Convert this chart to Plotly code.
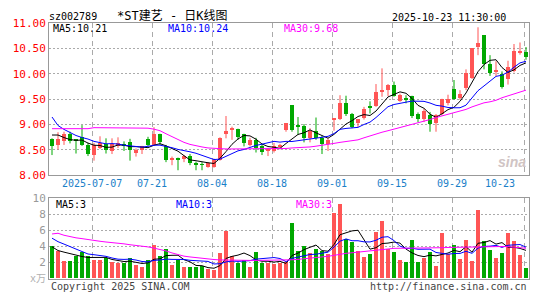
import plotly.graph_objects as go
import pandas as pd

W, H = 545, 300

# ---- trading days (Oct 1-8 holiday removed) ----
dates = [d.strftime('%Y-%m-%d') for d in pd.bdate_range('2025-06-26', '2025-10-23')
         if not ('2025-10-01' <= d.strftime('%Y-%m-%d') <= '2025-10-08')]

tick_dates = ['2025-07-07', '2025-07-21', '2025-08-04', '2025-08-18',
              '2025-09-01', '2025-09-15', '2025-09-29', '2025-10-23']
tick_labels = ['2025-07-07', '07-21', '08-04', '08-18', '09-01', '09-15', '09-29', '10-23']

open_ = [8.72, 8.60, 8.67, 8.81, 8.70, 8.75, 8.60, 8.40, 8.54, 8.62,
         8.48, 8.57, 8.62, 8.65, 8.43, 8.50, 8.72, 8.60, 8.81, 8.57,
         8.31, 8.32, 8.31, 8.38, 8.22, 8.21, 8.16, 8.16, 8.30, 8.81,
         8.90, 8.91, 8.81, 8.60, 8.70, 8.57, 8.47, 8.48, 8.55, 8.89,
         9.38, 8.98, 8.97, 8.74, 8.87, 8.73, 8.62, 9.10, 9.11, 9.42,
         9.20, 9.02, 9.13, 9.34, 9.36, 9.63, 9.67, 9.78, 9.47, 9.51,
         9.57, 9.21, 9.10, 9.19, 9.02, 9.21, 9.42, 9.70, 9.52, 9.71,
         9.92, 10.53, 10.76, 10.20, 10.03, 9.99, 9.90, 10.06, 10.40, 10.42]
high = [8.73, 8.85, 8.86, 8.86, 8.71, 8.99, 8.64, 8.64, 8.77, 8.73,
        8.73, 8.75, 8.67, 8.72, 8.53, 8.58, 8.76, 8.95, 8.82, 8.60,
        8.37, 8.35, 8.40, 8.42, 8.27, 8.26, 8.26, 8.33, 8.75, 9.17,
        8.96, 8.92, 8.82, 8.74, 8.74, 8.62, 8.54, 8.64, 8.62, 9.02,
        9.38, 9.15, 9.01, 8.93, 9.14, 8.78, 8.73, 9.12, 9.58, 9.57,
        9.23, 9.11, 9.35, 9.46, 9.80, 10.11, 9.80, 9.85, 9.61, 9.58,
        9.57, 9.24, 9.31, 9.25, 9.21, 9.51, 9.59, 9.88, 9.68, 10.09,
        10.51, 10.92, 10.76, 10.37, 10.25, 10.05, 10.26, 10.59, 10.62, 10.53]
low = [8.40, 8.51, 8.60, 8.63, 8.43, 8.58, 8.38, 8.29, 8.52, 8.43,
       8.42, 8.54, 8.48, 8.29, 8.37, 8.42, 8.57, 8.58, 8.60, 8.26,
       8.20, 8.10, 8.26, 8.20, 8.10, 8.10, 8.15, 8.15, 8.29, 8.73,
       8.70, 8.70, 8.57, 8.57, 8.45, 8.40, 8.38, 8.45, 8.51, 8.86,
       8.86, 8.80, 8.65, 8.65, 8.70, 8.42, 8.48, 8.88, 9.09, 9.17,
       8.93, 8.95, 9.10, 9.22, 9.35, 9.55, 9.56, 9.55, 9.45, 9.42,
       9.13, 9.05, 9.05, 8.86, 8.86, 9.18, 9.38, 9.49, 9.49, 9.68,
       9.90, 10.37, 10.09, 9.96, 9.96, 9.71, 9.79, 10.03, 10.38, 10.28]
close = [8.57, 8.72, 8.81, 8.67, 8.68, 8.60, 8.42, 8.60, 8.64, 8.50,
         8.62, 8.64, 8.57, 8.50, 8.50, 8.57, 8.59, 8.81, 8.65, 8.29,
         8.33, 8.30, 8.37, 8.23, 8.21, 8.20, 8.23, 8.30, 8.74, 8.87,
         8.92, 8.76, 8.64, 8.70, 8.54, 8.45, 8.51, 8.57, 8.59, 9.02,
         8.89, 8.96, 8.74, 8.87, 8.73, 8.62, 8.70, 9.12, 9.42, 9.20,
         8.95, 9.11, 9.31, 9.33, 9.64, 9.67, 9.78, 9.56, 9.58, 9.50,
         9.16, 9.10, 9.27, 9.00, 9.19, 9.51, 9.51, 9.50, 9.59, 10.01,
         10.51, 10.61, 10.20, 10.01, 10.07, 9.74, 10.13, 10.45, 10.45, 10.32]
# closes of the 9 sessions before the window (for MA5 / MA10)
prior_close = [10.40, 9.58, 9.27, 9.28, 9.00, 8.72, 9.06, 8.87, 8.755]
ma30_price = [8.92, 8.92, 8.92, 8.92, 8.92, 8.92, 8.92, 8.94, 8.94, 8.94,
              8.94, 8.94, 8.94, 8.94, 8.94, 8.94, 8.93, 8.91, 8.88, 8.82,
              8.76, 8.70, 8.65, 8.61, 8.58, 8.56, 8.54, 8.53, 8.52, 8.52,
              8.52, 8.52, 8.52, 8.52, 8.52, 8.52, 8.52, 8.52, 8.52, 8.53,
              8.54, 8.545, 8.55, 8.56, 8.575, 8.59, 8.61, 8.63, 8.65, 8.665,
              8.68, 8.70, 8.74, 8.78, 8.81, 8.85, 8.88, 8.91, 8.95, 8.98,
              9.00, 9.03, 9.06, 9.10, 9.14, 9.17, 9.20, 9.23, 9.26, 9.30,
              9.35, 9.39, 9.43, 9.45, 9.48, 9.53, 9.57, 9.61, 9.65, 9.68]

volume = [4.05, 3.37, 2.18, 2.18, 2.78, 3.25, 2.78, 2.30, 2.30, 2.58,
          1.98, 1.90, 1.90, 2.50, 1.67, 1.47, 2.26, 4.17, 2.78, 3.65,
          1.67, 2.30, 1.39, 1.47, 1.39, 1.51, 1.11, 1.00, 3.10, 5.87,
          2.78, 1.90, 2.30, 1.47, 3.25, 1.90, 1.90, 1.79, 1.90, 2.00,
          6.83, 3.37, 3.97, 3.10, 3.65, 3.37, 2.98, 8.13, 9.20, 4.84,
          4.56, 3.37, 2.60, 2.98, 5.75, 7.14, 3.65, 3.25, 2.30, 2.06,
          4.76, 2.06, 2.50, 3.25, 1.59, 5.63, 2.98, 4.17, 2.38, 4.76,
          2.18, 8.53, 4.64, 3.57, 2.58, 3.10, 5.63, 4.64, 2.86, 1.35]
prior_volume = [7.77, 5.18, 5.18, 6.28, 6.14, 5.72, 3.18, 3.18, 3.72]
ma30_volume = [5.56, 5.65, 5.40, 5.20, 5.08, 4.98, 4.85, 4.75, 4.65, 4.56,
               4.50, 4.40, 4.33, 4.22, 4.15, 4.05, 3.95, 3.80, 3.65, 3.45,
               3.20, 3.00, 2.80, 2.70, 2.60, 2.50, 2.42, 2.38, 2.33, 2.30,
               2.27, 2.27, 2.27, 2.27, 2.27, 2.27, 2.27, 2.27, 2.27, 2.30,
               2.35, 2.40, 2.47, 2.53, 2.58, 2.68, 2.78, 2.90, 3.05, 3.15,
               3.22, 3.30, 3.37, 3.45, 3.55, 3.65, 3.72, 3.77, 3.78, 3.78,
               3.78, 3.78, 3.78, 3.80, 3.82, 3.85, 3.88, 3.90, 3.90, 3.90,
               3.90, 3.95, 4.00, 4.05, 4.05, 4.00, 3.98, 3.95, 3.85, 3.78]

RED = '#ff5555'
GREEN = '#00a800'
MONO = 'DejaVu Sans Mono, Liberation Mono, monospace'
CJK = 'DejaVu Sans Mono, Noto Sans CJK SC, monospace'


def moving_avg(series, prior, n):
    full = list(prior) + list(series)
    k = len(prior)
    return [sum(full[k + i - n + 1:k + i + 1]) / n for i in range(len(series))]


n = len(dates)
idx = list(range(n))
up = [c >= o for o, c in zip(open_, close)]
colors = [RED if u else GREEN for u in up]

ma5 = moving_avg(close, prior_close, 5)
ma10 = moving_avg(close, prior_close, 10)
vma5 = moving_avg(volume, prior_volume, 5)
vma10 = moving_avg(volume, prior_volume, 10)

fig = go.Figure()

# wicks
for want, col in ((True, RED), (False, GREEN)):
    wx, wy = [], []
    for i in idx:
        if up[i] == want:
            wx += [i, i, None]
            wy += [low[i], high[i], None]
    fig.add_trace(go.Scatter(x=wx, y=wy, mode='lines', line=dict(color=col, width=1),
                             hoverinfo='skip', showlegend=False, xaxis='x', yaxis='y'))

# bodies
base = [min(o, c) for o, c in zip(open_, close)]
hgt = [max(abs(c - o), 0.014) for o, c in zip(open_, close)]
fig.add_trace(go.Bar(x=idx, y=hgt, base=base, width=0.78, marker=dict(color=colors, line=dict(width=0)),
                     showlegend=False, xaxis='x', yaxis='y'))

for ys, col in ((ma5, 'black'), (ma10, '#0000ff'), (ma30_price, '#ff00ff')):
    fig.add_trace(go.Scatter(x=idx, y=ys, mode='lines', line=dict(color=col, width=1),
                             showlegend=False, xaxis='x', yaxis='y'))

# volume
fig.add_trace(go.Bar(x=idx, y=volume, width=0.78, marker=dict(color=colors, line=dict(width=0)),
                     showlegend=False, xaxis='x2', yaxis='y2'))
for ys, col in ((vma5, 'black'), (vma10, '#0000ff'), (ma30_volume, '#ff00ff')):
    fig.add_trace(go.Scatter(x=idx, y=ys, mode='lines', line=dict(color=col, width=1),
                             showlegend=False, xaxis='x2', yaxis='y2'))

grid_x = [dates.index(d) - 1 / 3 for d in tick_dates]
x0p, x1p = 49 / W, 529 / W
GRID = '#aaaaaa'
BORDER = '#999999'

xcommon = dict(range=[-0.5, n - 0.5], tickvals=grid_x, showticklabels=False, ticks='',
               showgrid=True, gridcolor=GRID, griddash='5px,4px', gridwidth=1,
               showline=True, mirror=True, linecolor=BORDER, linewidth=1, zeroline=False,
               domain=[x0p, x1p])

price_ticks = [8.0, 8.5, 9.0, 9.5, 10.0, 10.5, 11.0]
vol_ticks = [2, 4, 6, 8, 10]

fig.update_layout(
    width=W, height=H, margin=dict(l=0, r=0, t=0, b=0),
    paper_bgcolor='white', plot_bgcolor='white', bargap=0,
    xaxis=dict(anchor='y', **xcommon),
    xaxis2=dict(anchor='y2', matches='x', **xcommon),
    yaxis=dict(domain=[1 - 177 / H, 1 - 18 / H], range=[8, 11], tickvals=price_ticks,
               ticktext=['%.2f' % v for v in price_ticks],
               tickfont=dict(family=MONO, size=11, color='#ff0000'), ticks='',
               showgrid=True, gridcolor=GRID, griddash='2px,2px', zeroline=False,
               showline=True, mirror=True, linecolor=BORDER, linewidth=1),
    yaxis2=dict(domain=[1 - 285 / H, 1 - 201 / H], range=[0, 10], tickvals=vol_ticks,
                ticktext=[str(v) for v in vol_ticks],
                tickfont=dict(family=MONO, size=11, color='#999999'), ticks='',
                showgrid=True, gridcolor=GRID, griddash='2px,2px', zeroline=False,
                showline=True, mirror=True, linecolor=BORDER, linewidth=1),
)

ann = []


def txt(x, y, s, color='black', size=10, anchor='left', family=MONO, xref='paper', xshift=0):
    ann.append(dict(x=x if xref != 'paper' else x / W, y=1 - y / H, xref=xref, yref='paper',
                    text=s, showarrow=False, xanchor=anchor, yanchor='middle', xshift=xshift,
                    font=dict(family=family, size=size, color=color)))


txt(47, 11, 'sz002789', size=10)
txt(115, 10, '*ST建艺 - 日K线图', size=12, family=CJK)
txt(508, 12, '2025-10-23 11:30:00', size=10, anchor='right')
txt(51, 24, 'MA5:10.21', size=10)
txt(166, 24, 'MA10:10.24', color='#0000ff', size=10)
txt(282, 24, 'MA30:9.68', color='#ff00ff', size=10)
txt(54, 208, 'MA5:3', size=10)
txt(174, 208, 'MA10:3', color='#0000ff', size=10)
txt(294, 208, 'MA30:3', color='#ff00ff', size=10)
txt(28, 285, 'x万', color='#b0b0b0', size=10, family=CJK)
txt(49, 293, 'Copyright 2025 SINA.COM', color='#444444', size=10)
txt(529, 293, 'http://finance.sina.com.cn', color='#444444', size=10, anchor='right')
txt(512, 163, '<b><i>sina</i></b>', color='#d0c4c4', size=14, anchor='center', family='Liberation Sans')

for d, lab in zip(tick_dates, tick_labels):
    i = dates.index(d)
    if i == n - 1:
        txt(i, 186, lab, color='#1a80c8', size=10, anchor='right', xref='x', xshift=-9)
    else:
        txt(i - 1 / 3, 186, lab, color='#1a80c8', size=10, anchor='center', xref='x')

fig.update_layout(annotations=ann)
fig.write_html('out.html')
